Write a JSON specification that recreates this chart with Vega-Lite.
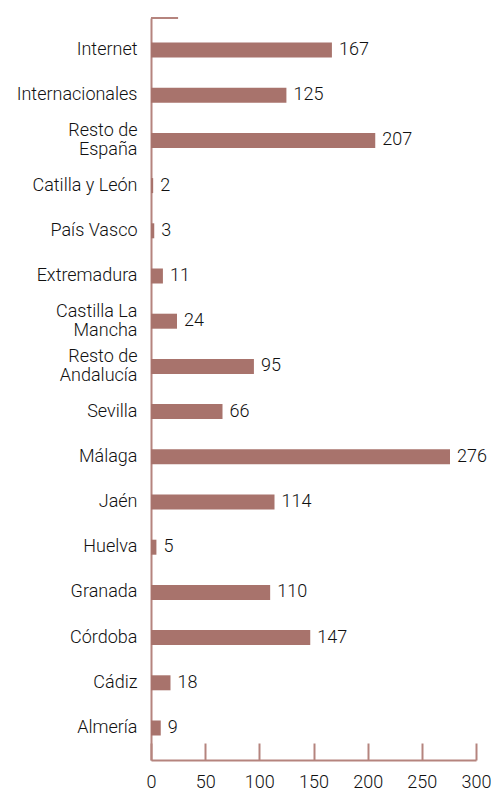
{
  "$schema": "https://vega.github.io/schema/vega-lite/v6.json",
  "width": 325,
  "height": 742,
  "autosize": {"type": "none"},
  "padding": {"left": 151, "top": 18, "right": 15, "bottom": 34},
  "background": "white",
  "config": {"view": {"stroke": null}, "font": "Roboto"},
  "data": {
    "values": [
      {"region": "Internet", "n": 167},
      {"region": "Internacionales", "n": 125},
      {"region": "Resto de|España", "n": 207},
      {"region": "Catilla y León", "n": 2},
      {"region": "País Vasco", "n": 3},
      {"region": "Extremadura", "n": 11},
      {"region": "Castilla La|Mancha", "n": 24},
      {"region": "Resto de|Andalucía", "n": 95},
      {"region": "Sevilla", "n": 66},
      {"region": "Málaga", "n": 276},
      {"region": "Jaén", "n": 114},
      {"region": "Huelva", "n": 5},
      {"region": "Granada", "n": 110},
      {"region": "Córdoba", "n": 147},
      {"region": "Cádiz", "n": 18},
      {"region": "Almería", "n": 9}
    ]
  },
  "encoding": {
    "y": {
      "field": "region",
      "type": "nominal",
      "sort": null,
      "scale": {"paddingInner": 0.668, "paddingOuter": 0.542},
      "axis": {
        "title": null,
        "ticks": false,
        "domainColor": "#b5847e",
        "domainWidth": 2,
        "labelExpr": "split(datum.label, '|')",
        "labelFont": "Roboto",
        "labelFontWeight": 300,
        "labelFontSize": 18,
        "labelColor": "#111111",
        "labelLineHeight": 19,
        "labelPadding": 14,
        "labelOffset": {"condition": {"test": "indexof(datum.value, '|') >= 0", "value": -9.5}, "value": 0}
      }
    }
  },
  "layer": [
    {
      "mark": {"type": "bar", "color": "#a8736c"},
      "encoding": {
        "x": {
          "field": "n",
          "type": "quantitative",
          "scale": {"domain": [0, 300], "nice": false},
          "axis": {
            "title": null,
            "values": [0, 50, 100, 150, 200, 250, 300],
            "grid": false,
            "domainColor": "#b5847e",
            "domainWidth": 2,
            "tickColor": "#b5847e",
            "tickWidth": 2,
            "tickSize": -17,
            "labelFont": "Roboto",
            "labelFontWeight": 300,
            "labelFontSize": 18,
            "labelColor": "#111111",
            "labelPadding": 30,
            "labelFlush": false
          }
        }
      }
    },
    {
      "mark": {"type": "text", "align": "left", "baseline": "middle", "dx": 7, "fontSize": 18, "font": "Roboto", "fontWeight": 300, "color": "#111111"},
      "encoding": {
        "x": {"field": "n", "type": "quantitative"},
        "text": {"field": "n", "type": "quantitative"}
      }
    },
    {
      "data": {"values": [{"a": 0, "b": 25}]},
      "mark": {"type": "rule", "color": "#b5847e", "strokeWidth": 2},
      "encoding": {
        "x": {"field": "a", "type": "quantitative"},
        "x2": {"field": "b"},
        "y": {"value": 0}
      }
    }
  ]
}
